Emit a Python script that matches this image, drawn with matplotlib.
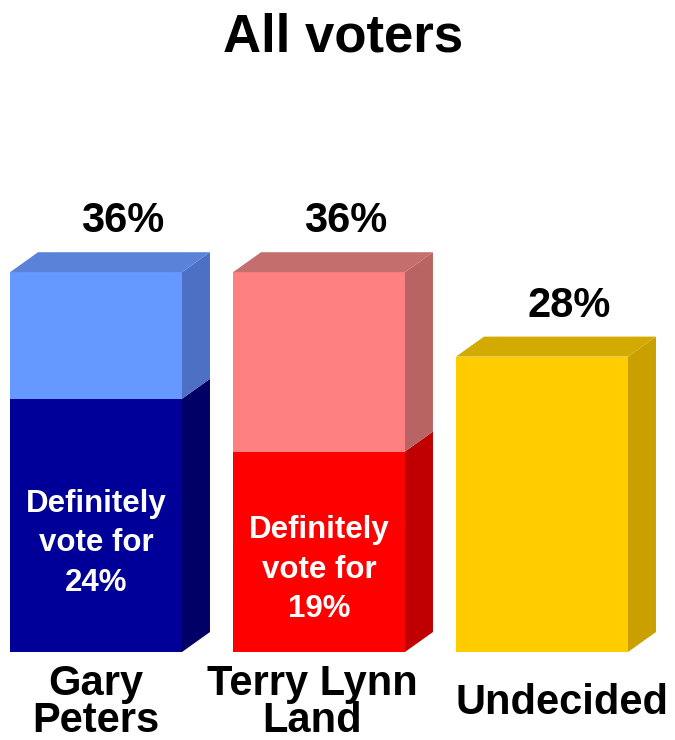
import matplotlib
matplotlib.use("Agg")
import matplotlib.pyplot as plt
from matplotlib.patches import Polygon

plt.rcParams['font.family'] = ['Liberation Sans', 'DejaVu Sans']

# Data
candidates = ["Gary\nPeters", "Terry Lynn\nLand", "Undecided"]
total_pct = [36, 36, 28]
definite_pct = [24, 19, None]
title = "All voters"

# Face colours: (front, side, top) for the "soft" and "definite" parts
soft_colors = [
    ("#6699FF", "#4D6FC4", "#5A82D8"),
    ("#FF8080", "#B86464", "#C46E6E"),
    ("#FFCC00", "#C9A000", "#D2AA00"),
]
definite_colors = [
    ("#000099", "#000066", "#000080"),
    ("#FF0000", "#C00000", "#D00000"),
    None,
]

fig = plt.figure(figsize=(6.75, 7.4), dpi=100)
ax = fig.add_axes([0, 88 / 740, 1, 422 / 740])
ax.set_xlim(-0.4305, 2.5964)
ax.set_ylim(0, 40)
ax.axis("off")

width = 0.771
dx = 0.1256   # depth offset in x (data units)
dy = 1.894    # depth offset in y (data units)


def box(x0, x1, y0, y1, cols, draw_top=True):
    front, side, top = cols
    ax.add_patch(Polygon([(x0, y0), (x1, y0), (x1, y1), (x0, y1)],
                         closed=True, fc=front, ec="none", clip_on=False))
    ax.add_patch(Polygon([(x1, y0), (x1 + dx, y0 + dy), (x1 + dx, y1 + dy), (x1, y1)],
                         closed=True, fc=side, ec="none", clip_on=False))
    if draw_top:
        ax.add_patch(Polygon([(x0, y1), (x1, y1), (x1 + dx, y1 + dy), (x0 + dx, y1 + dy)],
                             closed=True, fc=top, ec="none", clip_on=False))


label_dx = [0.0, -0.03, 0.09]
for i, (name, tot, dfn) in enumerate(zip(candidates, total_pct, definite_pct)):
    x0 = i - width / 2
    x1 = i + width / 2
    base = 0
    if dfn is not None:
        box(x0, x1, 0, dfn, definite_colors[i], draw_top=False)
        base = dfn
        ax.text(i, dfn / 2 - 1.7, f"Definitely\nvote for\n{dfn}%", ha="center", va="center",
                color="white", fontsize=22.5, fontweight="bold", linespacing=1.42)
    box(x0, x1, base, tot, soft_colors[i])
    ax.text(i + 0.12, tot + dy + 1.05, f"{tot}%", ha="center", va="bottom",
            fontsize=30, fontweight="bold", color="black")
    ax.text(i + label_dx[i], -4.8, name, ha="center", va="center",
            fontsize=30, fontweight="bold", color="black", linespacing=0.92)

fig.text(343 / 675, 1 - 37 / 740, title, ha="center", va="center",
         fontsize=38, fontweight="bold", color="black")

fig.savefig("out.png", dpi=100, facecolor="white")
